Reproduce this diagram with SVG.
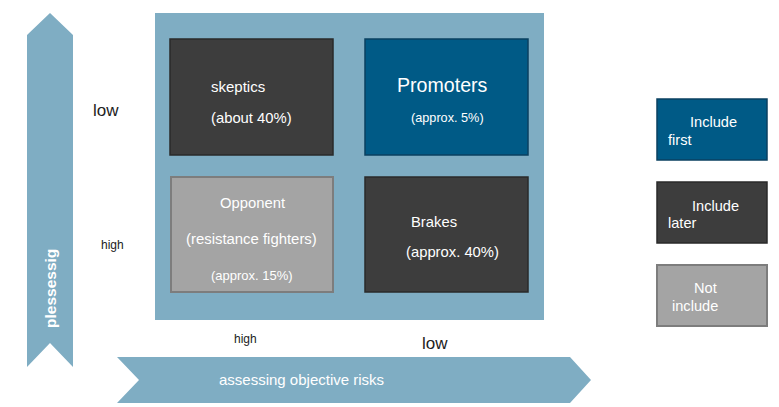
<svg xmlns="http://www.w3.org/2000/svg" width="779" height="407" viewBox="0 0 779 407">
<style>
text{font-family:"Liberation Sans",Arial,sans-serif;fill:#fff}
.lbl{fill:#222}
.dark{fill:#3d3d3d;stroke:#2a2a2a;stroke-width:1.5}
.blue{fill:#005a86;stroke:#0a4060;stroke-width:1.5}
.grey{fill:#a4a4a4;stroke:#7d7d7d;stroke-width:2}
.axis{fill:#7fadc3}
</style>
<rect width="779" height="407" fill="#fff"/>
<g id="axes">
<path class="axis" d="M27,35 L50,13 L73,35 L73,367 L50,343 L27,367 Z"/>
<text transform="translate(56,328) rotate(-90)" font-size="15.5" font-weight="bold">plessessig</text>
<path class="axis" d="M117,357 L570,357 L591,380 L570,403 L117,403 L139,380 Z"/>
<text x="219" y="385" font-size="15">assessing objective risks</text>
</g>
<g id="labels">
<text class="lbl" x="93" y="116" font-size="17">low</text>
<text class="lbl" x="101" y="249" font-size="12">high</text>
<text class="lbl" x="234" y="343" font-size="12">high</text>
<text class="lbl" x="422" y="349" font-size="17">low</text>
</g>
<g id="matrix">
<rect class="axis" x="155" y="13" width="389" height="307"/>
</g>
<g id="skeptics">
<rect class="dark" x="170" y="39" width="163" height="116"/>
<text x="211" y="92" font-size="15">skeptics</text>
<text x="211" y="123" font-size="14.8">(about 40%)</text>
</g>
<g id="promoters">
<rect class="blue" x="365" y="39" width="163" height="116"/>
<text x="397" y="92" font-size="19.6">Promoters</text>
<text x="411" y="122" font-size="12.7">(approx. 5%)</text>
</g>
<g id="opponent">
<rect class="grey" x="171" y="177" width="162" height="115"/>
<text x="220" y="208" font-size="14.8">Opponent</text>
<text x="186" y="244" font-size="14.9">(resistance fighters)</text>
<text x="211" y="280" font-size="13">(approx. 15%)</text>
</g>
<g id="brakes">
<rect class="dark" x="365" y="177" width="163" height="115"/>
<text x="411" y="227" font-size="14.8">Brakes</text>
<text x="406" y="257" font-size="14.8">(approx. 40%)</text>
</g>
<g id="legend-first">
<rect class="blue" x="657" y="99" width="110" height="61"/>
<text x="690" y="127" font-size="14.6">Include</text>
<text x="668" y="145" font-size="14.6">first</text>
</g>
<g id="legend-later">
<rect class="dark" x="657" y="182" width="110" height="61"/>
<text x="692" y="211" font-size="14.6">Include</text>
<text x="668" y="228" font-size="14.6">later</text>
</g>
<g id="legend-not">
<rect class="grey" x="657" y="265" width="110" height="61"/>
<text x="694" y="293" font-size="14.6">Not</text>
<text x="672" y="311" font-size="14.6">include</text>
</g>
</svg>
